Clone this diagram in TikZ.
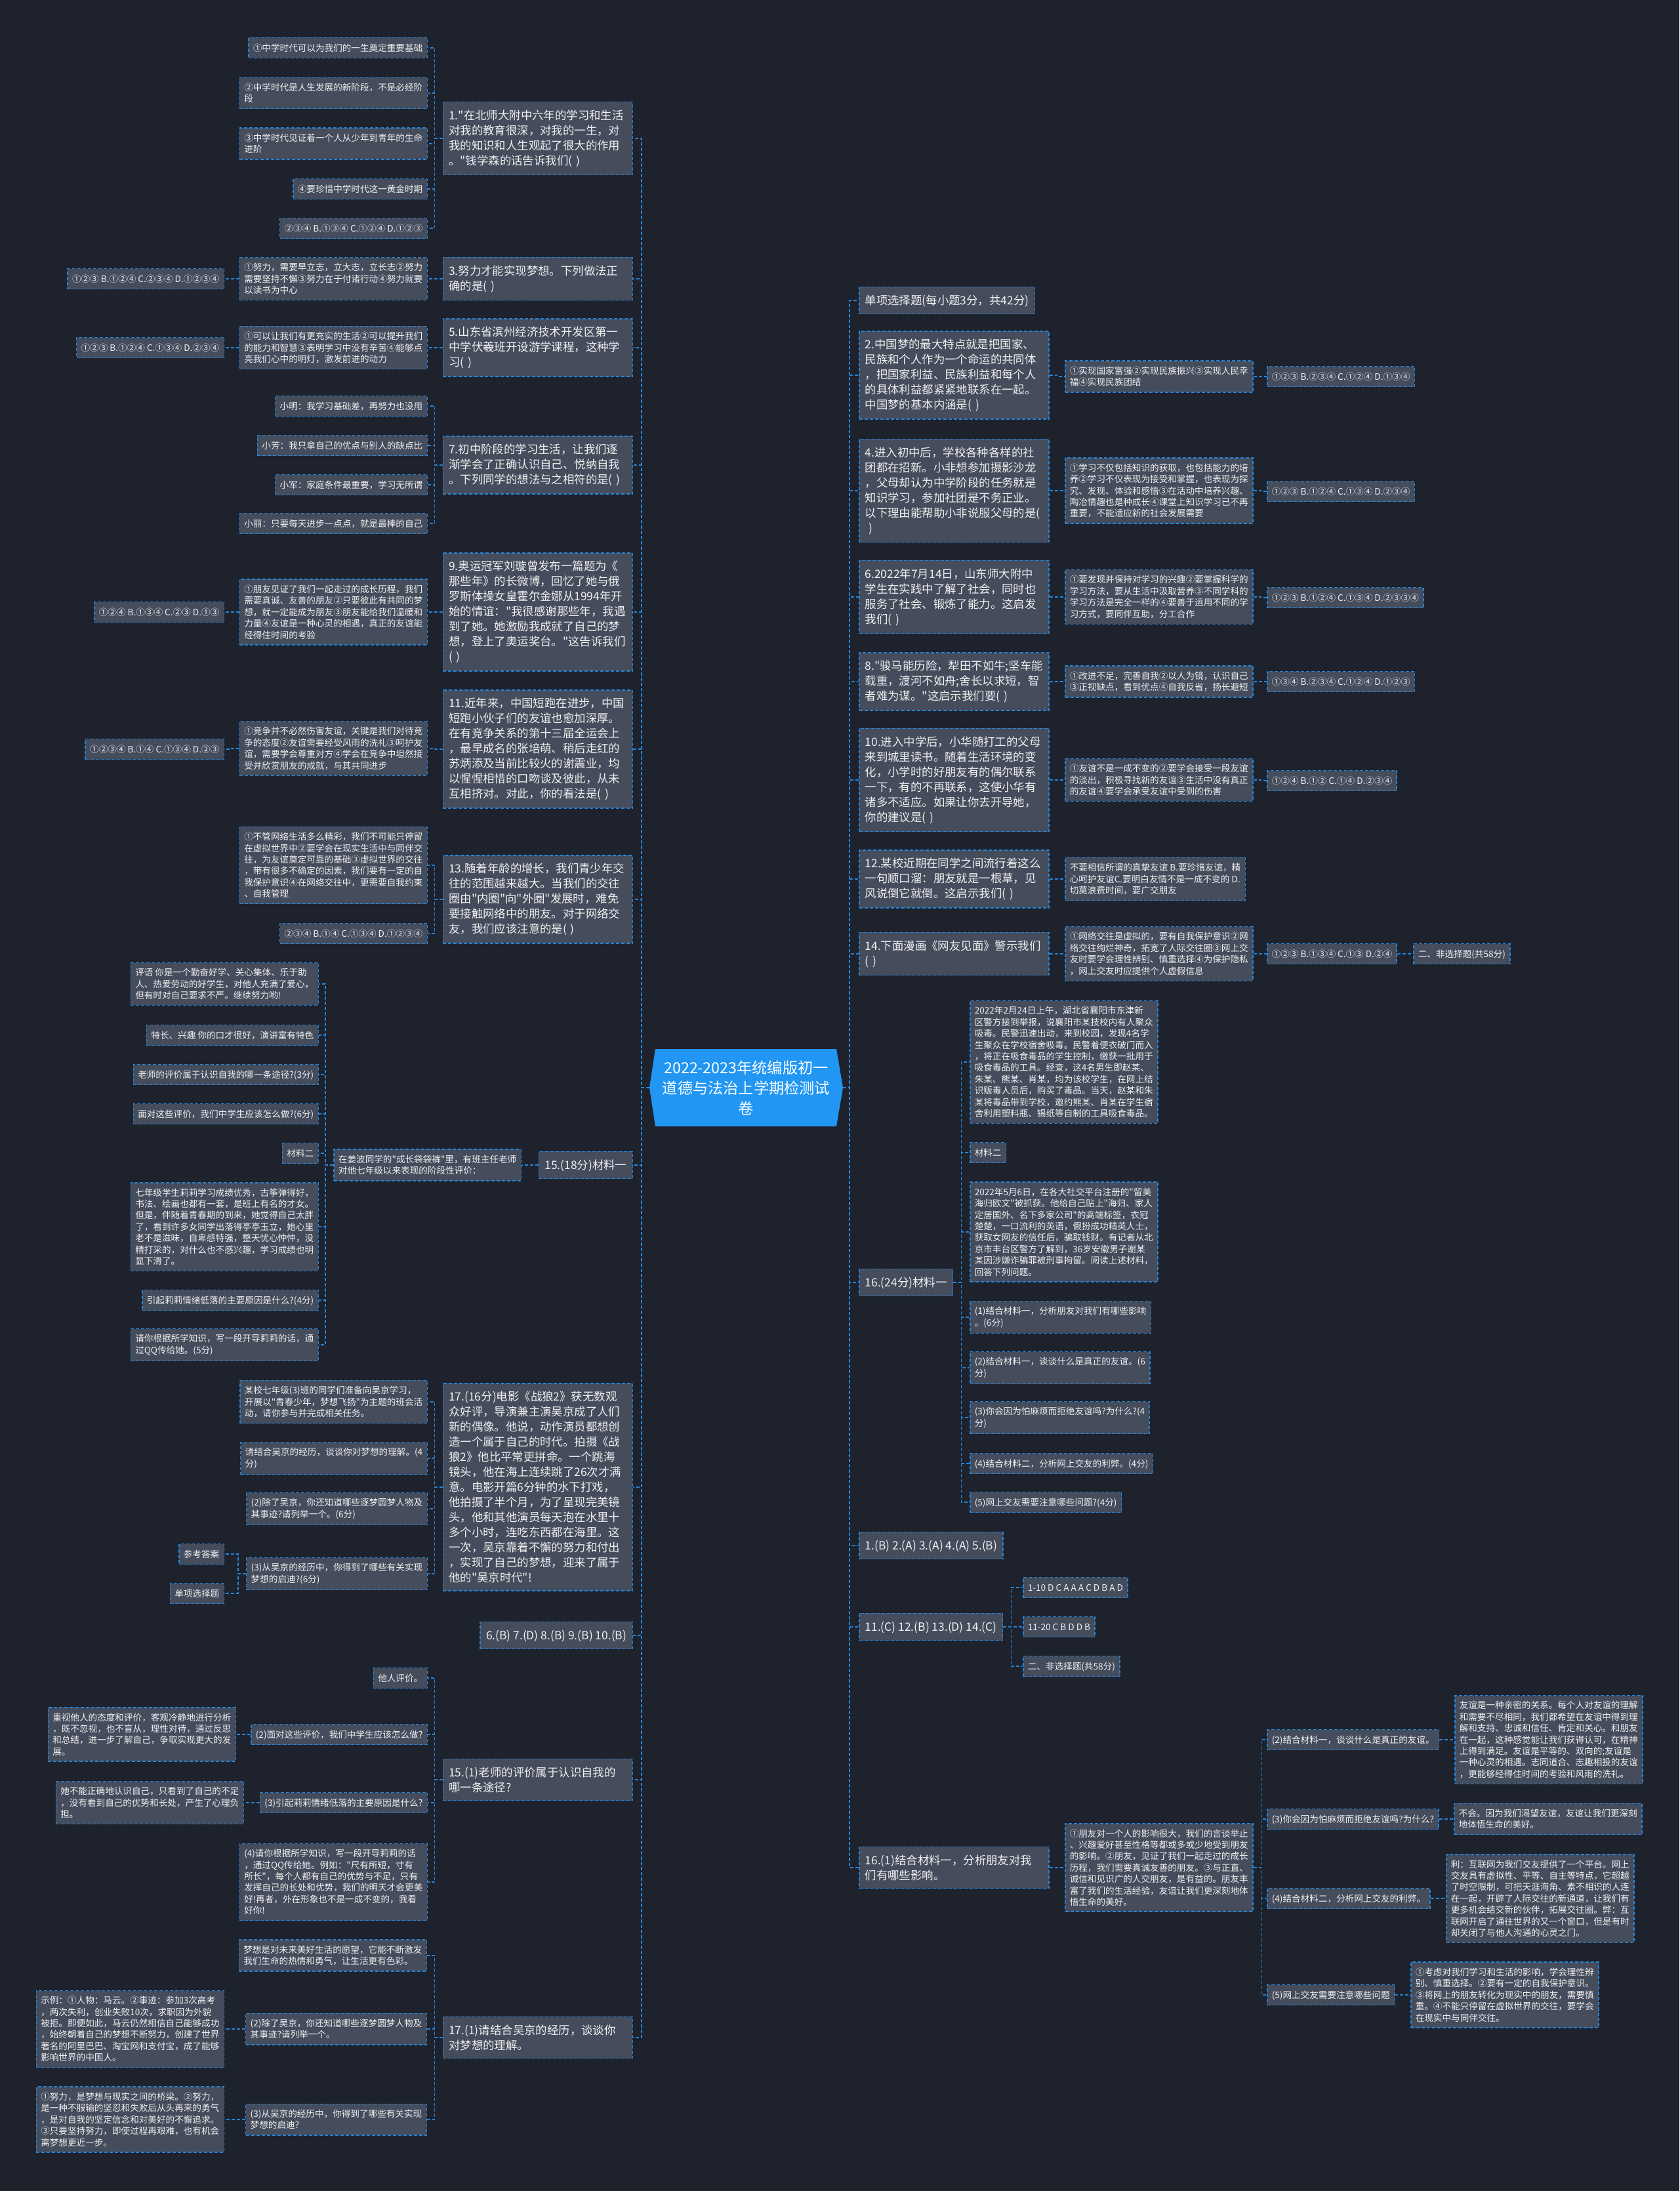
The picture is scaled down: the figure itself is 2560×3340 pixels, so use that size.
\documentclass[tikz,border=0pt]{standalone}
\usepackage{fontspec}
\setmainfont{Noto Sans CJK SC}
\newcommand\qmk{\XeTeXglyph\XeTeXcharglyph"22\relax}
\definecolor{bgc}{RGB}{30,34,45}
\definecolor{boxc}{RGB}{69,76,92}
\definecolor{bluel}{RGB}{38,132,214}
\definecolor{rootc}{RGB}{33,150,243}
\definecolor{txtc}{RGB}{240,240,240}
\begin{document}
\begin{tikzpicture}[x=1pt,y=-1pt,
  box/.style={draw=bluel, fill=boxc, text=txtc, line width=1.5pt, dash pattern=on 5pt off 3pt},
  q/.style={box, font=\fontsize{17.4pt}{23pt}\selectfont, inner xsep=9pt, inner ysep=12pt, align=left},
  qw/.style={q, text width=271pt},
  q1/.style={q, text height=15.3pt, text depth=2.1pt},
  leaf/.style={box, font=\fontsize{13.6pt}{17.4pt}\selectfont, inner xsep=7pt, inner ysep=8.7pt, align=left},
  l1/.style={leaf, text height=12pt, text depth=1.6pt},
  link/.style={draw=bluel, line width=1.5pt, dash pattern=on 5pt off 3pt},
  le/.style={anchor=east}, ri/.style={anchor=west},
  rootbox/.style={shape=rectangle, text=white, minimum width=295pt, minimum height=118pt, inner sep=0pt, align=center, font=\fontsize{23.2pt}{31pt}\selectfont}]
\fill[bgc] (0,0) rectangle (2560,3340);
\useasboundingbox (0,0) rectangle (2560,3340);

\fill[rootc] (999,1599) -- (1275,1599) -- (1285,1658) -- (1275,1717) -- (999,1717) -- (990,1658) -- cycle;
\node[rootbox] (root) at (1137.5,1658) {2022-2023年统编版初一\\道德与法治上学期检测试\\卷};

% ---------------- LEFT ----------------
\node[qw,le] (L1) at (965,211) {1.\qmk{}在北师大附中六年的学习和生活\\对我的教育很深，对我的一生，对\\我的知识和人生观起了很大的作用\\。\qmk{}钱学森的话告诉我们( )};
\node[l1,le] (L1a) at (652,73) {①中学时代可以为我们的一生奠定重要基础};
\node[leaf,le] (L1b) at (652,142) {②中学时代是人生发展的新阶段，不是必经阶\\段};
\node[leaf,le] (L1c) at (652,219) {③中学时代见证着一个人从少年到青年的生命\\进阶};
\node[l1,le] (L1d) at (652,288) {④要珍惜中学时代这一黄金时期};
\node[l1,le] (L1e) at (652,348) {②③④ B.①③④ C.①②④ D.①②③};

\node[qw,le] (L3) at (965,425) {3.努力才能实现梦想。下列做法正\\确的是( )};
\node[leaf,le] (L3a) at (652,425) {①努力，需要早立志，立大志，立长志②努力\\需要坚持不懈③努力在于付诸行动④努力就要\\以读书为中心};
\node[l1,le] (L3b) at (342,425) {①②③ B.①②④ C.②③④ D.①②③④};

\node[qw,le] (L5) at (965,530) {5.山东省滨州经济技术开发区第一\\中学伏羲班开设游学课程，这种学\\习( )};
\node[leaf,le] (L5a) at (652,530) {①可以让我们有更充实的生活②可以提升我们\\的能力和智慧③表明学习中没有辛苦④能够点\\亮我们心中的明灯，激发前进的动力};
\node[l1,le] (L5b) at (342,530) {①②③ B.①②④ C.①③④ D.②③④};

\node[qw,le] (L7) at (965,709) {7.初中阶段的学习生活，让我们逐\\渐学会了正确认识自己、悦纳自我\\。下列同学的想法与之相符的是( )};
\node[l1,le] (L7a) at (652,619) {小明：我学习基础差，再努力也没用};
\node[l1,le] (L7b) at (652,679) {小芳：我只拿自己的优点与别人的缺点比};
\node[l1,le] (L7c) at (652,739) {小军：家庭条件最重要，学习无所谓};
\node[l1,le] (L7d) at (652,798) {小丽：只要每天进步一点点，就是最棒的自己};

\node[qw,le] (L9) at (965,933) {9.奥运冠军刘璇曾发布一篇题为《\\那些年》的长微博，回忆了她与俄\\罗斯体操女皇霍尔金娜从1994年开\\始的情谊：\qmk{}我很感谢那些年，我遇\\到了她。她激励我成就了自己的梦\\想，登上了奥运奖台。\qmk{}这告诉我们\\( )};
\node[leaf,le] (L9a) at (652,933) {①朋友见证了我们一起走过的成长历程，我们\\需要真诚、友善的朋友②只要彼此有共同的梦\\想，就一定能成为朋友③朋友能给我们温暖和\\力量④友谊是一种心灵的相遇，真正的友谊能\\经得住时间的考验};
\node[l1,le] (L9b) at (342,933) {①②④ B.①③④ C.②③ D.①③};

\node[qw,le] (L11) at (965,1142) {11.近年来，中国短跑在进步，中国\\短跑小伙子们的友谊也愈加深厚。\\在有竞争关系的第十三届全运会上\\，最早成名的张培萌、稍后走红的\\苏炳添及当前比较火的谢震业，均\\以惺惺相惜的口吻谈及彼此，从未\\互相挤对。对此，你的看法是( )};
\node[leaf,le] (L11a) at (652,1141) {①竞争并不必然伤害友谊，关键是我们对待竞\\争的态度②友谊需要经受风雨的洗礼③呵护友\\谊，需要学会尊重对方④学会在竞争中坦然接\\受并欣赏朋友的成就，与其共同进步};
\node[l1,le] (L11b) at (342,1142) {①②③④ B.①④ C.①③④ D.②③};

\node[qw,le] (L13) at (965,1371) {13.随着年龄的增长，我们青少年交\\往的范围越来越大。当我们的交往\\圈由\qmk{}内圈\qmk{}向\qmk{}外圈\qmk{}发展时，难免\\要接触网络中的朋友。对于网络交\\友，我们应该注意的是( )};
\node[leaf,le] (L13a) at (652,1319) {①不管网络生活多么精彩，我们不可能只停留\\在虚拟世界中②要学会在现实生活中与同伴交\\往，为友谊奠定可靠的基础③虚拟世界的交往\\，带有很多不确定的因素，我们要有一定的自\\我保护意识④在网络交往中，更需要自我约束\\、自我管理};
\node[l1,le] (L13b) at (652,1423) {②③④ B.①④ C.①③④ D.①②③④};

\node[q1,le] (L15) at (965,1776) {15.(18分)材料一};
\node[leaf,le] (L15a) at (795,1776) {在姜波同学的\qmk{}成长袋袋裤\qmk{}里，有班主任老师\\对他七年级以来表现的阶段性评价：};
\node[leaf,le] (L15b) at (486,1500) {评语 你是一个勤奋好学、关心集体、乐于助\\人、热爱劳动的好学生，对他人充满了爱心，\\但有时对自己要求不严。继续努力哟!};
\node[l1,le] (L15c) at (486,1578) {特长、兴趣 你的口才很好，演讲富有特色};
\node[l1,le] (L15d) at (486,1638) {老师的评价属于认识自我的哪一条途径?(3分)};
\node[l1,le] (L15e) at (486,1698) {面对这些评价，我们中学生应该怎么做?(6分)};
\node[l1,le] (L15f) at (486,1758) {材料二};
\node[leaf,le] (L15g) at (486,1870) {七年级学生莉莉学习成绩优秀，古筝弹得好，\\书法、绘画也都有一套，是班上有名的才女。\\但是，伴随着青春期的到来，她觉得自己太胖\\了，看到许多女同学出落得亭亭玉立，她心里\\老不是滋味，自卑感特强，整天忧心忡忡，没\\精打采的，对什么也不感兴趣，学习成绩也明\\显下滑了。};
\node[l1,le] (L15h) at (486,1982) {引起莉莉情绪低落的主要原因是什么?(4分)};
\node[leaf,le] (L15i) at (486,2050) {请你根据所学知识，写一段开导莉莉的话，通\\过QQ传给她。(5分)};

\node[qw,le] (L17) at (965,2267) {17.(16分)电影《战狼2》获无数观\\众好评，导演兼主演吴京成了人们\\新的偶像。他说，动作演员都想创\\造一个属于自己的时代。拍摄《战\\狼2》他比平常更拼命。一个跳海\\镜头，他在海上连续跳了26次才满\\意。电影开篇6分钟的水下打戏，\\他拍摄了半个月，为了呈现完美镜\\头，他和其他演员每天泡在水里十\\多个小时，连吃东西都在海里。这\\一次，吴京靠着不懈的努力和付出\\，实现了自己的梦想，迎来了属于\\他的\qmk{}吴京时代\qmk{}!};
\node[leaf,le] (L17a) at (652,2137) {某校七年级(3)班的同学们准备向吴京学习，\\开展以\qmk{}青春少年，梦想飞扬\qmk{}为主题的班会活\\动，请你参与并完成相关任务。};
\node[leaf,le] (L17b) at (652,2223) {请结合吴京的经历，谈谈你对梦想的理解。(4\\分)};
\node[leaf,le] (L17c) at (652,2300) {(2)除了吴京，你还知道哪些逐梦圆梦人物及\\其事迹?请列举一个。(6分)};
\node[leaf,le] (L17d) at (652,2399) {(3)从吴京的经历中，你得到了哪些有关实现\\梦想的启迪?(6分)};
\node[l1,le] (L17e) at (342,2369) {参考答案};
\node[l1,le] (L17f) at (342,2429) {单项选择题};

\node[q1,le] (L6a) at (965,2493) {6.(B) 7.(D) 8.(B) 9.(B) 10.(B)};

\node[qw,le] (L151) at (965,2713) {15.(1)老师的评价属于认识自我的\\哪一条途径?};
\node[l1,le] (L151a) at (652,2558) {他人评价。};
\node[l1,le] (L151b) at (652,2644) {(2)面对这些评价，我们中学生应该怎么做?};
\node[l1,le] (L151c) at (652,2748) {(3)引起莉莉情绪低落的主要原因是什么?};
\node[leaf,le] (L151d) at (652,2869) {(4)请你根据所学知识，写一段开导莉莉的话\\，通过QQ传给她。例如：\qmk{}尺有所短，寸有\\所长\qmk{}，每个人都有自己的优势与不足，只有\\发挥自己的长处和优势，我们的明天才会更美\\好!再者，外在形象也不是一成不变的，我看\\好你!};
\node[leaf,le] (L151e) at (360,2644) {重视他人的态度和评价，客观冷静地进行分析\\，既不忽视，也不盲从，理性对待，通过反思\\和总结，进一步了解自己，争取实现更大的发\\展。};
\node[leaf,le] (L151f) at (372,2748) {她不能正确地认识自己，只看到了自己的不足\\，没有看到自己的优势和长处，产生了心理负\\担。};

\node[qw,le] (L171) at (965,3106) {17.(1)请结合吴京的经历，谈谈你\\对梦想的理解。};
\node[leaf,le] (L171a) at (651,2981) {梦想是对未来美好生活的愿望，它能不断激发\\我们生命的热情和勇气，让生活更有色彩。};
\node[leaf,le] (L171b) at (651,3093) {(2)除了吴京，你还知道哪些逐梦圆梦人物及\\其事迹?请列举一个。};
\node[leaf,le] (L171c) at (651,3231) {(3)从吴京的经历中，你得到了哪些有关实现\\梦想的启迪?};
\node[leaf,le] (L171d) at (342,3093) {示例：①人物：马云。②事迹：参加3次高考\\，两次失利，创业失败10次，求职因为外貌\\被拒。即便如此，马云仍然相信自己能够成功\\，始终朝着自己的梦想不断努力，创建了世界\\著名的阿里巴巴、淘宝网和支付宝，成了能够\\影响世界的中国人。};
\node[leaf,le] (L171e) at (342,3231) {①努力，是梦想与现实之间的桥梁。②努力，\\是一种不服输的坚忍和失败后从头再来的勇气\\，是对自我的坚定信念和对美好的不懈追求。\\③只要坚持努力，即使过程再艰难，也有机会\\离梦想更近一步。};

% ---------------- RIGHT ----------------
\node[q1,ri] (R1) at (1309,458) {单项选择题(每小题3分，共42分)};

\node[qw,ri] (R2) at (1309,572) {2.中国梦的最大特点就是把国家、\\民族和个人作为一个命运的共同体\\，把国家利益、民族利益和每个人\\的具体利益都紧紧地联系在一起。\\中国梦的基本内涵是( )};
\node[leaf,ri] (R2a) at (1623,574) {①实现国家富强②实现民族振兴③实现人民幸\\福④实现民族团结};
\node[l1,ri] (R2b) at (1931,574) {①②③ B.②③④ C.①②④ D.①③④};

\node[qw,ri] (R4) at (1309,748) {4.进入初中后，学校各种各样的社\\团都在招新。小非想参加摄影沙龙\\，父母却认为中学阶段的任务就是\\知识学习，参加社团是不务正业。\\以下理由能帮助小非说服父母的是(\\~)};
\node[leaf,ri] (R4a) at (1623,748) {①学习不仅包括知识的获取，也包括能力的培\\养②学习不仅表现为接受和掌握，也表现为探\\究、发现、体验和感悟③在活动中培养兴趣、\\陶冶情趣也是种成长④课堂上知识学习已不再\\重要，不能适应新的社会发展需要};
\node[l1,ri] (R4b) at (1931,749) {①②③ B.①②④ C.①③④ D.②③④};

\node[qw,ri] (R6) at (1309,910) {6.2022年7月14日，山东师大附中\\学生在实践中了解了社会，同时也\\服务了社会、锻炼了能力。这启发\\我们( )};
\node[leaf,ri] (R6a) at (1623,910) {①要发现并保持对学习的兴趣②要掌握科学的\\学习方法，要从生活中汲取营养③不同学科的\\学习方法是完全一样的④要善于运用不同的学\\习方式，要同伴互助，分工合作};
\node[l1,ri] (R6b) at (1931,911) {①②③ B.①②④ C.①③④ D.②③③④};

\node[qw,ri] (R8) at (1309,1039) {8.\qmk{}骏马能历险，犁田不如牛;坚车能\\载重，渡河不如舟;舍长以求短，智\\者难为谋。\qmk{}这启示我们要( )};
\node[leaf,ri] (R8a) at (1623,1039) {①改进不足，完善自我②以人为镜，认识自己\\③正视缺点，看到优点④自我反省，扬长避短};
\node[l1,ri] (R8b) at (1931,1039) {①③④ B.②③④ C.①②④ D.①②③};

\node[qw,ri] (R10) at (1309,1189) {10.进入中学后，小华随打工的父母\\来到城里读书。随着生活环境的变\\化，小学时的好朋友有的偶尔联系\\一下，有的不再联系，这使小华有\\诸多不适应。如果让你去开导她，\\你的建议是( )};
\node[leaf,ri] (R10a) at (1623,1189) {①友谊不是一成不变的②要学会接受一段友谊\\的淡出，积极寻找新的友谊③生活中没有真正\\的友谊④要学会承受友谊中受到的伤害};
\node[l1,ri] (R10b) at (1931,1190) {①②④ B.①② C.①④ D.②③④};

\node[qw,ri] (R12) at (1309,1340) {12.某校近期在同学之间流行着这么\\一句顺口溜：朋友就是一根草，见\\风说倒它就倒。这启示我们( )};
\node[leaf,ri] (R12a) at (1623,1340) {不要相信所谓的真挚友谊 B.要珍惜友谊，精\\心呵护友谊C.要明白友情不是一成不变的 D.\\切莫浪费时间，要广交朋友};

\node[qw,ri] (R14) at (1309,1454) {14.下面漫画《网友见面》警示我们\\( )};
\node[leaf,ri] (R14a) at (1623,1454) {①网络交往是虚拟的，要有自我保护意识②网\\络交往绚烂神奇，拓宽了人际交往圈③网上交\\友时要学会理性辨别、慎重选择④为保护隐私\\，网上交友时应提供个人虚假信息};
\node[l1,ri] (R14b) at (1931,1454) {①②③ B.①③④ C.①③ D.②④};
\node[l1,ri] (R14c) at (2154,1454) {二、非选择题(共58分)};

\node[q1,ri] (R16) at (1309,1955) {16.(24分)材料一};
\node[leaf,ri] (R16a) at (1478,1619) {2022年2月24日上午，湖北省襄阳市东津新\\区警方接到举报，说襄阳市某技校内有人聚众\\吸毒。民警迅速出动，来到校园，发现4名学\\生聚众在学校宿舍吸毒。民警着便衣破门而入\\，将正在吸食毒品的学生控制，缴获一批用于\\吸食毒品的工具。经查，这4名男生即赵某、\\朱某、熊某、肖某，均为该校学生，在网上结\\识贩毒人员后，购买了毒品。当天，赵某和朱\\某将毒品带到学校，邀约熊某、肖某在学生宿\\舍利用塑料瓶、锡纸等自制的工具吸食毒品。};
\node[l1,ri] (R16b) at (1478,1757) {材料二};
\node[leaf,ri] (R16c) at (1478,1878) {2022年5月6日，在各大社交平台注册的\qmk{}留美\\海归欧文\qmk{}被抓获。他给自己贴上\qmk{}海归、家人\\定居国外、名下多家公司\qmk{}的高端标签，衣冠\\楚楚，一口流利的英语，假扮成功精英人士，\\获取女网友的信任后，骗取钱财。有记者从北\\京市丰台区警方了解到，36岁安徽男子谢某\\某因涉嫌诈骗罪被刑事拘留。阅读上述材料，\\回答下列问题。};
\node[leaf,ri] (R16d) at (1478,2008) {(1)结合材料一，分析朋友对我们有哪些影响\\。(6分)};
\node[leaf,ri] (R16e) at (1478,2085) {(2)结合材料一，谈谈什么是真正的友谊。(6\\分)};
\node[leaf,ri] (R16f) at (1478,2161) {(3)你会因为怕麻烦而拒绝友谊吗?为什么?(4\\分)};
\node[l1,ri] (R16g) at (1478,2231) {(4)结合材料二，分析网上交友的利弊。(4分)};
\node[l1,ri] (R16h) at (1478,2290) {(5)网上交友需要注意哪些问题?(4分)};

\node[q1,ri] (Ra1) at (1309,2356) {1.(B) 2.(A) 3.(A) 4.(A) 5.(B)};
\node[q1,ri] (Ra11) at (1309,2480) {11.(C) 12.(B) 13.(D) 14.(C)};
\node[l1,ri] (Ra11a) at (1559,2420) {1-10 D C A A A C D B A D};
\node[l1,ri] (Ra11b) at (1559,2480) {11-20 C B D D B};
\node[l1,ri] (Ra11c) at (1559,2540) {二、非选择题(共58分)};

\node[qw,ri] (R161) at (1309,2847) {16.(1)结合材料一，分析朋友对我\\们有哪些影响。};
\node[leaf,ri] (R161a) at (1623,2847) {①朋友对一个人的影响很大，我们的言谈举止\\、兴趣爱好甚至性格等都或多或少地受到朋友\\的影响。②朋友，见证了我们一起走过的成长\\历程，我们需要真诚友善的朋友。③与正直、\\诚信和见识广的人交朋友，是有益的。朋友丰\\富了我们的生活经验，友谊让我们更深刻地体\\悟生命的美好。};
\node[l1,ri] (R161b) at (1931,2652) {(2)结合材料一，谈谈什么是真正的友谊。};
\node[l1,ri] (R161c) at (1931,2773) {(3)你会因为怕麻烦而拒绝友谊吗?为什么?};
\node[l1,ri] (R161d) at (1931,2894) {(4)结合材料二，分析网上交友的利弊。};
\node[l1,ri] (R161e) at (1931,3041) {(5)网上交友需要注意哪些问题};
\node[leaf,ri] (R161bb) at (2217,2652) {友谊是一种亲密的关系。每个人对友谊的理解\\和需要不尽相同，我们都希望在友谊中得到理\\解和支持、忠诚和信任、肯定和关心。和朋友\\在一起，这种感觉能让我们获得认可，在精神\\上得到满足。友谊是平等的、双向的;友谊是\\一种心灵的相遇。志同道合、志趣相投的友谊\\，更能够经得住时间的考验和风雨的洗礼。};
\node[leaf,ri] (R161cc) at (2216,2773) {不会。因为我们渴望友谊，友谊让我们更深刻\\地体悟生命的美好。};
\node[leaf,ri] (R161dd) at (2204,2894) {利：互联网为我们交友提供了一个平台。网上\\交友具有虚拟性、平等、自主等特点，它超越\\了时空限制，可把天涯海角、素不相识的人连\\在一起，开辟了人际交往的新通道，让我们有\\更多机会结交新的伙伴，拓展交往圈。弊：互\\联网开启了通往世界的又一个窗口，但是有时\\却关闭了与他人沟通的心灵之门。};
\node[leaf,ri] (R161ee) at (2150,3041) {①考虑对我们学习和生活的影响，学会理性辨\\别、慎重选择。②要有一定的自我保护意识。\\③将网上的朋友转化为现实中的朋友，需要慎\\重。④不能只停留在虚拟世界的交往，要学会\\在现实中与同伴交往。};

% ---------------- CONNECTORS ----------------
\foreach \n in {L1,L3,L5,L7,L9,L11,L13,L15,L17,L6a,L151,L171}
  \draw[link] (root.west) -- ++(-12,0) |- (\n.east);
\foreach \n in {R1,R2,R4,R6,R8,R10,R12,R14,R16,Ra1,Ra11,R161}
  \draw[link] (root.east) -- ++(10,0) |- (\n.west);
\foreach \p/\c in {L1/L1a,L1/L1b,L1/L1c,L1/L1d,L1/L1e,L3/L3a,L3a/L3b,L5/L5a,L5a/L5b,
  L7/L7a,L7/L7b,L7/L7c,L7/L7d,L9/L9a,L9a/L9b,L11/L11a,L11a/L11b,L13/L13a,L13/L13b,
  L15/L15a,L15a/L15b,L15a/L15c,L15a/L15d,L15a/L15e,L15a/L15f,L15a/L15g,L15a/L15h,L15a/L15i,
  L17/L17a,L17/L17b,L17/L17c,L17/L17d,L17d/L17e,L17d/L17f,
  L151/L151a,L151/L151b,L151/L151c,L151/L151d,L151b/L151e,L151c/L151f,
  L171/L171a,L171/L171b,L171/L171c,L171b/L171d,L171c/L171e}
  \draw[link] (\p.west) -- ++(-12,0) |- (\c.east);
\foreach \p/\c in {R2/R2a,R2a/R2b,R4/R4a,R4a/R4b,R6/R6a,R6a/R6b,R8/R8a,R8a/R8b,
  R10/R10a,R10a/R10b,R12/R12a,R14/R14a,R14a/R14b,R14b/R14c,
  R16/R16a,R16/R16b,R16/R16c,R16/R16d,R16/R16e,R16/R16f,R16/R16g,R16/R16h,
  Ra11/Ra11a,Ra11/Ra11b,Ra11/Ra11c,
  R161/R161a,R161a/R161b,R161a/R161c,R161a/R161d,R161a/R161e,
  R161b/R161bb,R161c/R161cc,R161d/R161dd,R161e/R161ee}
  \draw[link] (\p.east) -- ++(12,0) |- (\c.west);
\end{tikzpicture}
\end{document}
